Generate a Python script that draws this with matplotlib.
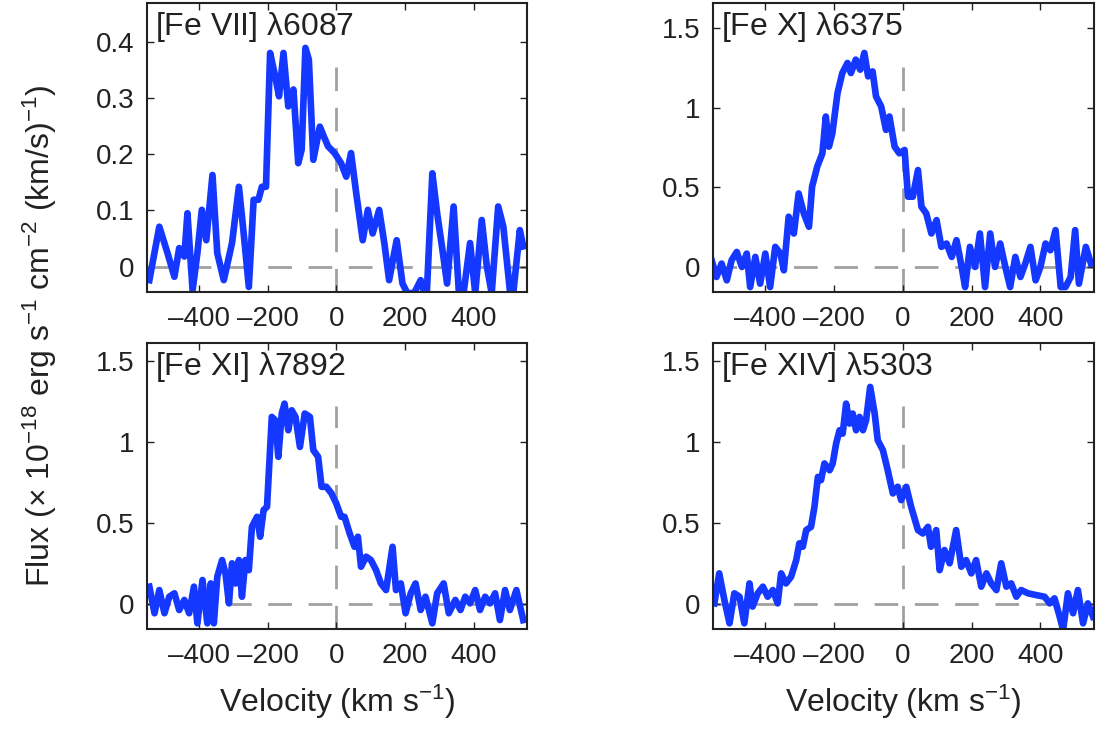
import matplotlib
matplotlib.use("Agg")
import matplotlib.pyplot as plt

plt.rcParams["font.family"] = ["Liberation Sans", "DejaVu Sans"]
plt.rcParams["mathtext.fontset"] = "custom"
plt.rcParams["mathtext.rm"] = "Liberation Sans"
plt.rcParams["mathtext.it"] = "Liberation Sans"

# [Fe VII] 6087
v_fe7 = [-545, -516, -492, -472, -458, -443, -434, -419, -405, -392, -379, -361, -347, -328,
         -304, -284, -270, -255, -241, -227, -217, -205, -193, -178, -167, -154, -140, -125,
         -111, -101, -90, -80, -67, -48, -36, -24, -5, 14, 29, 43, 58, 77, 92, 106, 125, 140,
         154, 176, 193, 207, 227, 246, 263, 280, 294, 308, 323, 342, 357, 371, 390, 405, 424,
         439, 453, 472, 487, 506, 516, 535, 545]
f_fe7 = [-0.024, 0.071, 0.024, -0.018, 0.033, 0.018, 0.095, -0.042, 0.024, 0.101, 0.047, 0.163,
         0.024, -0.024, 0.042, 0.142, 0.059, -0.036, 0.119, 0.119, 0.142, 0.142, 0.380, 0.338,
         0.303, 0.380, 0.285, 0.315, 0.184, 0.208, 0.389, 0.368, 0.190, 0.249, 0.231, 0.214,
         0.202, 0.184, 0.160, 0.202, 0.131, 0.047, 0.101, 0.059, 0.101, 0.042, -0.024, 0.047,
         -0.030, -0.047, -0.047, -0.024, -0.059, 0.166, 0.095, 0.036, -0.030, 0.107, -0.042,
         -0.047, 0.042, -0.047, 0.083, 0.0, -0.047, 0.107, 0.071, -0.042, -0.047, 0.065, 0.036]

# [Fe X] 6375
v_fe10 = [-556, -542, -527, -512, -498, -483, -468, -454, -444, -429, -415, -400, -386, -371,
          -356, -346, -332, -317, -303, -288, -273, -264, -249, -234, -224, -215, -205, -190,
          -176, -161, -151, -137, -124, -112, -101, -88, -78, -63, -49, -39, -24, -10, 5, 15,
          29, 44, 54, 68, 83, 98, 112, 127, 142, 156, 171, 181, 195, 210, 224, 239, 254, 268,
          283, 298, 312, 327, 342, 356, 371, 386, 400, 415, 429, 444, 459, 473, 488, 501, 512,
          532, 547]
f_fe10 = [0.042, -0.063, 0.021, -0.084, 0.042, 0.094, 0.0, 0.084, -0.126, 0.063, -0.105, 0.084,
          -0.126, 0.126, 0.084, -0.021, 0.315, 0.210, 0.461, 0.336, 0.252, 0.503, 0.629, 0.713,
          0.944, 0.755, 0.839, 1.091, 1.217, 1.280, 1.217, 1.301, 1.238, 1.343, 1.196, 1.227,
          1.070, 1.007, 0.860, 0.944, 0.755, 0.713, 0.734, 0.441, 0.441, 0.608, 0.378, 0.336,
          0.210, 0.294, 0.126, 0.147, 0.063, 0.168, 0.0, -0.126, 0.126, 0.0, 0.210, -0.126,
          0.210, 0.0, 0.147, 0.0, -0.126, 0.063, -0.063, 0.021, 0.126, -0.084, 0.0, 0.147,
          0.105, 0.231, -0.126, -0.126, -0.063, 0.231, -0.105, 0.126, 0.021]

# [Fe XI] 7892
v_fe11 = [-545, -530, -516, -501, -487, -472, -458, -443, -429, -415, -405, -390, -376, -366,
          -357, -347, -333, -323, -313, -304, -294, -284, -275, -265, -255, -246, -231, -222,
          -212, -202, -188, -178, -169, -159, -151, -140, -130, -119, -106, -92, -77, -67, -53,
          -43, -29, -14, 0, 14, 24, 39, 53, 63, 72, 87, 101, 116, 130, 145, 164, 174, 188, 202,
          217, 231, 246, 260, 280, 294, 313, 328, 347, 362, 376, 390, 405, 419, 434, 448, 463,
          477, 492, 506, 525, 545]
f_fe11 = [0.107, -0.057, 0.086, -0.057, 0.045, 0.066, -0.037, 0.025, -0.057, 0.107, -0.119,
          0.148, -0.119, 0.127, -0.119, 0.168, 0.271, 0.189, 0.004, 0.251, 0.127, 0.271, 0.045,
          0.271, 0.209, 0.476, 0.538, 0.415, 0.579, 0.600, 1.154, 1.133, 0.908, 1.175, 1.236,
          1.072, 1.195, 1.154, 0.969, 1.175, 1.154, 0.949, 0.908, 0.723, 0.723, 0.682, 0.620,
          0.538, 0.538, 0.435, 0.353, 0.415, 0.230, 0.292, 0.271, 0.209, 0.127, 0.086, 0.353,
          0.086, 0.127, -0.057, 0.066, 0.127, -0.037, 0.045, -0.119, 0.066, 0.127, -0.057, 0.025,
          -0.037, 0.045, 0.004, 0.086, -0.037, 0.045, 0.004, 0.066, -0.099, 0.086, -0.037, 0.086,
          -0.099]

# [Fe XIV] 5303
v_fe14 = [-548, -534, -519, -504, -490, -475, -461, -446, -437, -422, -407, -393, -378, -364,
          -354, -340, -325, -310, -301, -291, -281, -267, -257, -247, -238, -228, -213, -204,
          -194, -184, -175, -165, -155, -146, -136, -126, -116, -107, -95, -82, -73, -58, -44,
          -29, -15, -5, 10, 24, 44, 58, 73, 82, 97, 107, 121, 136, 155, 170, 184, 199, 213, 228,
          243, 257, 272, 286, 301, 315, 330, 344, 364, 388, 412, 427, 441, 456, 466, 480, 495,
          509, 524, 538, 553]
f_fe14 = [0.004, 0.189, 0.025, -0.119, 0.066, 0.045, -0.119, 0.127, -0.016, 0.066, 0.107, 0.045,
          0.086, 0.004, 0.189, 0.127, 0.168, 0.271, 0.374, 0.353, 0.456, 0.476, 0.600, 0.784,
          0.764, 0.867, 0.825, 0.867, 0.990, 1.072, 1.051, 1.236, 1.113, 1.175, 1.072, 1.154,
          1.072, 1.133, 1.339, 1.175, 1.010, 0.949, 0.825, 0.682, 0.723, 0.641, 0.723, 0.600,
          0.456, 0.435, 0.476, 0.353, 0.456, 0.209, 0.333, 0.251, 0.456, 0.230, 0.271, 0.189,
          0.271, 0.107, 0.189, 0.127, 0.086, 0.251, 0.107, 0.127, 0.045, 0.086, 0.066, 0.055,
          0.045, 0.004, 0.035, -0.078, -0.160, 0.066, -0.057, 0.086, -0.119, 0.004, -0.078]

labels = [r"[Fe VII] $\lambda$6087", r"[Fe X] $\lambda$6375",
          r"[Fe XI] $\lambda$7892", r"[Fe XIV] $\lambda$5303"]
xticks = [-400, -200, 0, 200, 400]

fig = plt.figure(figsize=(11, 7.29), dpi=100)

panels = [
    ([0.1336, 0.5995, 0.3455, 0.3965], v_fe7, f_fe7, (-0.045, 0.469), [0, 0.1, 0.2, 0.3, 0.4]),
    ([0.6482, 0.5995, 0.3464, 0.3965], v_fe10, f_fe10, (-0.157, 1.657), [0, 0.5, 1, 1.5]),
    ([0.1336, 0.1372, 0.3455, 0.3923], v_fe11, f_fe11, (-0.154, 1.61), [0, 0.5, 1, 1.5]),
    ([0.6482, 0.1372, 0.3464, 0.3923], v_fe14, f_fe14, (-0.154, 1.61), [0, 0.5, 1, 1.5]),
]

for i, (pos, v, f, ylim, yticks) in enumerate(panels):
    ax = fig.add_axes(pos)
    ax.axhline(0, color="#a0a0a0", lw=2, dashes=(8.5, 6), zorder=1)
    ax.axvline(0, ymax=0.78, color="#a0a0a0", lw=2, dashes=(8.5, 6), zorder=1)
    ax.plot(v, f, color="#1438ff", lw=4.8, zorder=2, solid_joinstyle="round")
    ax.set_xlim(-552, 556)
    ax.set_ylim(*ylim)
    ax.set_xticks(xticks)
    ax.set_xticklabels(["\u2013400", "\u2013200", "0", "200", "400"])
    ax.set_yticks(yticks)
    ax.set_yticklabels([("%g" % t) for t in yticks])
    ax.tick_params(direction="in", top=True, right=True, length=5, width=1,
                   labelsize=20, colors="#222222")
    ax.tick_params(axis="x", pad=10)
    ax.tick_params(axis="y", pad=9)
    for s in ax.spines.values():
        s.set_linewidth(1.5)
        s.set_color("#222222")
    ax.text(0.02, 0.975, labels[i], transform=ax.transAxes, ha="left", va="top",
            fontsize=23, color="#222222")
    if i >= 2:
        ax.set_xlabel(r"Velocity (km s$^{-1}$)", fontsize=23, labelpad=10, color="#222222")

fig.text(0.036, 0.54, r"Flux ($\times$ 10$^{-18}$ erg s$^{-1}$ cm$^{-2}$ (km/s)$^{-1}$)",
         rotation=90, ha="center", va="center", fontsize=23, color="#222222")

fig.savefig("out.png", dpi=100)
